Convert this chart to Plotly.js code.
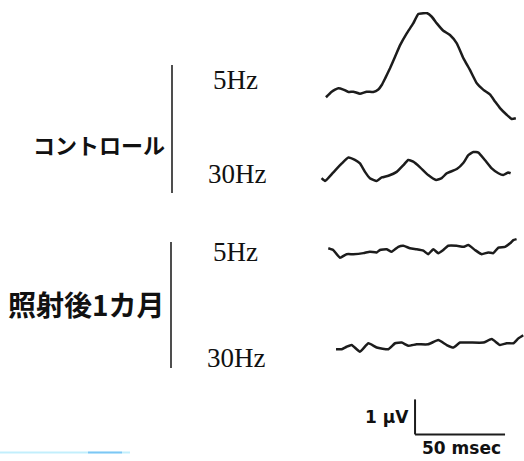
<!DOCTYPE html>
<html>
<head>
<meta charset="utf-8">
<script src="https://cdn.plot.ly/plotly-3.0.1.min.js"></script>
<style>
  html, body { margin: 0; padding: 0; background: #fff; }
  #chart { width: 524px; height: 461px; }
</style>
</head>
<body>
<div id="chart"></div>
<script>
// Evoked responses (µV) against time (msec), one pair of stimulus rates per group.
const groupLabels = ['コントロール', '照射後1カ月'];
const rateLabels = ['5Hz', '30Hz'];

// Control, 5 Hz
const ctrl5Time = [3.3, 6.5, 10.2, 13.0, 15.8, 18.5, 22.2, 25.9, 29.6, 32.4, 34.3, 36.2, 38.9, 41.7, 44.5, 48.1, 51.8, 54.6, 57.4, 59.6, 62.1, 64.9, 68.5, 72.2, 76.0, 79.7, 83.3, 87.1, 90.8, 94.4, 97.2, 100.0, 103.7, 106.5, 108.8];
const ctrl5Volt = [-0.15, 0.01, 0.11, 0.07, 0.0, 0.01, -0.05, 0.01, 0.0, 0.07, 0.20, 0.39, 0.68, 1.01, 1.34, 1.67, 1.96, 2.23, 2.25, 2.25, 2.15, 1.96, 1.75, 1.63, 1.39, 0.96, 0.63, 0.25, 0.06, -0.07, -0.27, -0.46, -0.65, -0.77, -0.75];

// Control, 30 Hz
const ctrl30Time = [0.9, 2.8, 7.3, 12.1, 15.8, 19.4, 22.2, 25.0, 27.7, 31.5, 34.3, 38.0, 42.6, 46.3, 49.0, 51.8, 55.6, 60.1, 64.5, 67.6, 70.4, 76.0, 79.7, 82.4, 85.2, 88.0, 91.6, 95.4, 99.1, 101.8, 104.6, 105.9];
const ctrl30Volt = [-0.09, -0.17, 0.07, 0.33, 0.50, 0.43, 0.33, 0.09, -0.09, -0.17, -0.07, -0.02, 0.09, 0.28, 0.43, 0.38, 0.22, 0.0, -0.14, -0.09, 0.05, 0.17, 0.35, 0.57, 0.66, 0.64, 0.43, 0.19, 0.05, 0.0, 0.07, 0.05];

// One month after irradiation, 5 Hz
const irr5Time = [4.6, 7.3, 11.1, 14.8, 18.5, 24.1, 27.7, 31.5, 33.3, 37.0, 39.8, 43.5, 46.3, 50.0, 53.7, 57.4, 60.1, 62.9, 65.7, 68.5, 71.2, 76.0, 79.7, 82.4, 86.1, 89.8, 93.5, 96.3, 99.1, 102.8, 105.6, 107.4, 109.2];
const irr5Volt = [0.05, 0.0, -0.22, -0.12, -0.12, -0.09, -0.05, -0.07, 0.0, 0.02, -0.05, 0.09, 0.12, 0.05, 0.02, -0.02, -0.12, 0.02, -0.09, 0.0, 0.12, 0.12, 0.09, 0.14, 0.0, -0.12, -0.07, -0.09, 0.07, 0.09, 0.19, 0.28, 0.31];

// One month after irradiation, 30 Hz
const irr30Time = [8.9, 12.1, 14.8, 17.6, 22.2, 26.9, 31.5, 38.0, 41.7, 45.4, 49.0, 53.7, 60.1, 65.7, 70.4, 74.1, 77.8, 83.3, 90.8, 95.4, 100.0, 103.7, 107.4, 110.2, 112.9];
const irr30Volt = [-0.12, -0.12, -0.05, 0.0, -0.19, 0.05, -0.07, -0.12, 0.05, 0.07, -0.02, 0.02, 0.02, 0.14, 0.0, -0.07, 0.07, 0.07, 0.07, 0.17, 0.0, 0.05, 0.05, 0.19, 0.28];

// Calibration bar
const scaleMicroV = 1;
const scaleMsec = 50;
const scaleLabels = ['1 µV', '50 msec'];

// ---- layout geometry (page pixels -> paper fractions) ----
const W = 524, H = 461;
const X = px => px / W;
const Y = py => 1 - py / H;
const pxPerMsec = 1.8, pxPerMicroV = 35, originPx = 320;
const xRange = [-originPx / pxPerMsec, (W - originPx) / pxPerMsec];
const yRange = [0, H / pxPerMicroV];
// vertical stacking of the four sweeps (µV offsets on the shared axis)
const traceOffsets = [10.543, 8.171, 6.029, 3.314];
const scaleCorner = [52.8, 0.76];

const ink = '#1c1c1c';
const sweeps = [
  [ctrl5Time, ctrl5Volt],
  [ctrl30Time, ctrl30Volt],
  [irr5Time, irr5Volt],
  [irr30Time, irr30Volt]
];
const data = sweeps.map(([t, v], i) => ({
  x: t,
  y: v.map(val => val + traceOffsets[i]),
  type: 'scatter',
  mode: 'lines',
  line: { color: ink, width: 2.5, shape: 'spline', smoothing: 0.4 },
  hoverinfo: 'skip',
  showlegend: false
}));

const serif = { family: 'Liberation Serif, Times New Roman, serif', size: 27, color: '#111' };
const cjk = size => ({ family: 'Noto Sans CJK JP, sans-serif', size: size, color: '#111' });
const sansBold = { family: 'DejaVu Sans, sans-serif', size: 17, color: '#111' };

const ann = (text, px, py, xanchor, font) => ({
  text: text, x: X(px), y: Y(py), xref: 'paper', yref: 'paper',
  xanchor: xanchor, yanchor: 'middle', showarrow: false, font: font
});

const annotations = [
  ann('<b>' + groupLabels[0] + '</b>', 167, 144, 'right', cjk(22)),
  ann('<b>' + groupLabels[1] + '</b>', 167, 304, 'right', cjk(28)),
  ann(rateLabels[0], 211, 80, 'left', serif),
  ann(rateLabels[1], 206, 174, 'left', serif),
  ann(rateLabels[0], 211, 252, 'left', serif),
  ann(rateLabels[1], 205, 358, 'left', serif),
  ann('<b>' + scaleLabels[0] + '</b>', 411, 417, 'right', sansBold),
  ann('<b>' + scaleLabels[1] + '</b>', 461, 448, 'center', sansBold)
];

const bracket = (px, py0, py1) => ({
  type: 'line', xref: 'paper', yref: 'paper',
  x0: X(px), x1: X(px), y0: Y(py0), y1: Y(py1),
  line: { color: '#222', width: 1.6 }
});

const shapes = [
  bracket(172, 65, 193),
  bracket(171, 242, 368),
  // calibration bar: vertical = 1 µV, horizontal = 50 msec
  { type: 'line', xref: 'x', yref: 'y',
    x0: scaleCorner[0], x1: scaleCorner[0], y0: scaleCorner[1], y1: scaleCorner[1] + scaleMicroV,
    line: { color: ink, width: 2 } },
  { type: 'line', xref: 'x', yref: 'y',
    x0: scaleCorner[0], x1: scaleCorner[0] + scaleMsec, y0: scaleCorner[1], y1: scaleCorner[1],
    line: { color: ink, width: 2 } },
  // faint cyan stroke near the lower-left corner
  { type: 'line', xref: 'paper', yref: 'paper', x0: X(0), x1: X(130), y0: Y(452.5), y1: Y(452.5),
    line: { color: 'rgba(80,210,245,0.35)', width: 2 } },
  { type: 'line', xref: 'paper', yref: 'paper', x0: X(88), x1: X(122), y0: Y(452.5), y1: Y(452.5),
    line: { color: 'rgba(40,150,235,0.45)', width: 2 } }
];

const hiddenAxis = r => ({
  range: r, showgrid: false, zeroline: false, showline: false,
  showticklabels: false, ticks: '', fixedrange: true
});

const layout = {
  width: W, height: H,
  margin: { l: 0, r: 0, t: 0, b: 0, pad: 0 },
  paper_bgcolor: '#fff', plot_bgcolor: '#fff',
  xaxis: hiddenAxis(xRange),
  yaxis: hiddenAxis(yRange),
  annotations: annotations,
  shapes: shapes,
  showlegend: false
};

Plotly.newPlot('chart', data, layout, { displayModeBar: false, staticPlot: true });
</script>
</body>
</html>
